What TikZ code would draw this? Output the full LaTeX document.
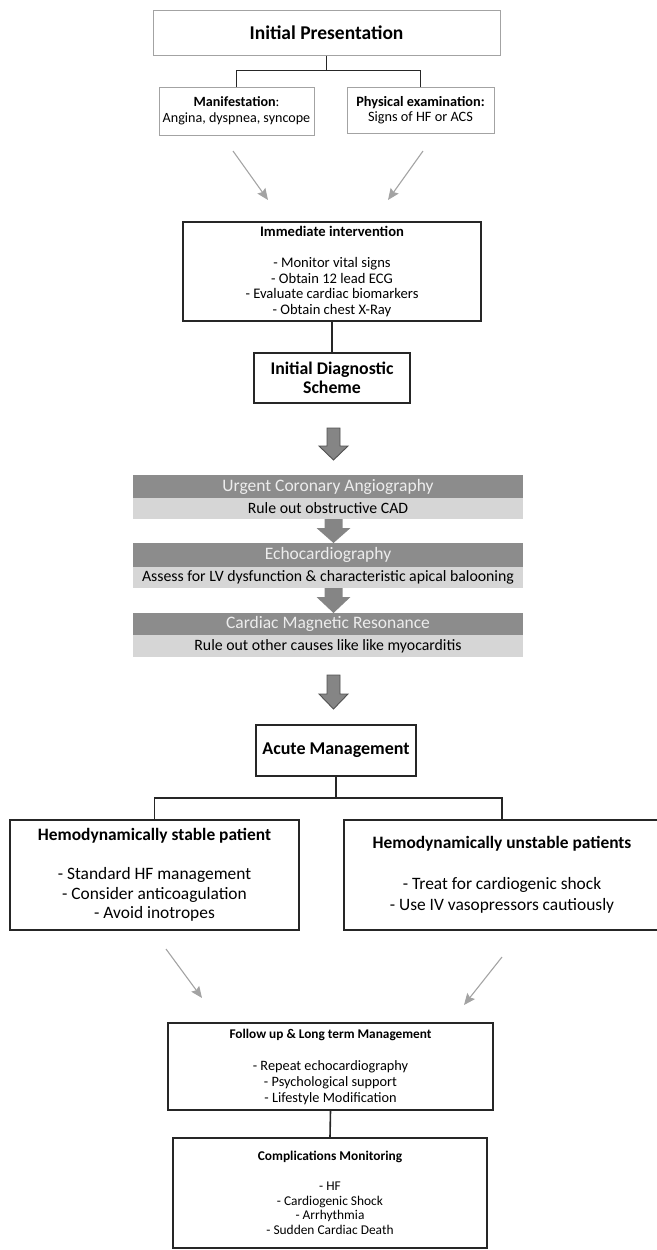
\documentclass[tikz,border=0pt]{standalone}
\usepackage{fontspec}
\setmainfont{Carlito}
\usepackage{tikz}
\usetikzlibrary{positioning, arrows.meta, calc}
\definecolor{lineclr}{HTML}{262626}
\definecolor{softclr}{HTML}{A3A3A3}
\definecolor{banddark}{HTML}{8C8C8C}
\definecolor{bandlight}{HTML}{D6D6D6}
\definecolor{bandtext}{HTML}{EDEDED}
\definecolor{arrfill}{HTML}{858585}
\tikzset{
  softbox/.style = {draw=softclr, line width=1pt, rectangle, align=center, inner sep=0pt},
  hardbox/.style = {draw=lineclr, line width=1.6pt, rectangle, align=center, inner sep=0pt},
  bandhi/.style  = {fill=banddark, rectangle, inner sep=0pt, text=bandtext,
                    font={\fontsize{17.5}{19}\selectfont}},
  bandlo/.style  = {fill=bandlight, rectangle, inner sep=0pt,
                    font={\fontsize{15.8}{17}\selectfont}},
  link/.style    = {draw=lineclr, line width=1.6pt},
  soft/.style    = {draw=softclr, line width=1.1pt, -{Stealth[length=4mm, width=3.4mm, inset=0.6mm]}},
  bigarr/.style  = {fill=arrfill, draw=lineclr!80, line width=0.9pt, line join=miter},
  smallarr/.style= {fill=arrfill},
}
% x, y top, y head, y tip, half shaft, half head
\newcommand{\fatarrow}[7]{%
  \path[#7] (#1-#5,#2) -- (#1+#5,#2) -- (#1+#5,#3) -- (#1+#6,#3) -- (#1,#4)
    -- (#1-#6,#3) -- (#1-#5,#3) -- cycle;}

\begin{document}
\begin{tikzpicture}[x=1pt, y=-1pt]
  \useasboundingbox (0,0) rectangle (656,1250);

  \node[softbox, minimum width=347pt, minimum height=45pt,
        font={\fontsize{19.5}{22}\selectfont\bfseries}] (pres) at (326.5,32.5)
    {Initial Presentation};
  \node[softbox, minimum width=155pt, minimum height=48pt,
        font={\fontsize{14.1}{15.5}\selectfont}] (manif) at (236.5,111)
    {\textbf{Manifestation}:\\Angina, dyspnea, syncope};
  \node[softbox, minimum width=147pt, minimum height=46pt,
        font={\fontsize{14.3}{15.5}\selectfont}] (exam) at (420.5,110)
    {\textbf{Physical examination:}\\Signs of HF or ACS};
  \draw[link] (pres.south) -- ++(0,15) -| (manif.north);
  \draw[link] (pres.south) ++(0,15) -| (exam.north);

  \coordinate (m1) at (233,151);  \coordinate (m2) at (268,200);
  \coordinate (e1) at (423,151);  \coordinate (e2) at (388,200);
  \draw[soft] (m1) -- (m2);
  \draw[soft] (e1) -- (e2);

  \node[hardbox, minimum width=298pt, minimum height=99pt,
        font={\fontsize{14.6}{15.5}\selectfont}] (immed) at (332,271.5)
    {\textbf{Immediate intervention}\\[15.5pt]
     - Monitor vital signs\\- Obtain 12 lead ECG\\
     - Evaluate cardiac biomarkers\\- Obtain chest X-Ray};
  \node[hardbox, minimum width=156pt, minimum height=50pt,
        font={\fontsize{17.8}{19}\selectfont\bfseries}] (diag) at (332,378)
    {Initial Diagnostic\\Scheme};
  \draw[link] (immed.south) -- (diag.north);

  \fatarrow{333.5}{428}{446}{460}{6.5}{14.5}{bigarr}

  % diagnostic bands
  \node[bandhi, minimum width=390pt, minimum height=23pt] (uca) at (328,486.5)
    {Urgent Coronary Angiography};
  \node[bandlo, minimum width=390pt, minimum height=21pt] (ucalo) at (328,508.5)
    {Rule out obstructive CAD};
  \fatarrow{333.5}{519}{528}{543}{9}{17}{smallarr}
  \node[bandhi, minimum width=390pt, minimum height=24pt] (echo) at (328,555)
    {Echocardiography};
  \node[bandlo, minimum width=390pt, minimum height=21pt] (echolo) at (328,577.5)
    {Assess for LV dysfunction \& characteristic apical balooning};
  \fatarrow{333.5}{588}{597}{613}{9}{17}{smallarr}
  \node[bandhi, minimum width=390pt, minimum height=22pt] (cmr) at (328,624)
    {Cardiac Magnetic Resonance};
  \node[bandlo, minimum width=390pt, minimum height=22pt] (cmrlo) at (328,646)
    {Rule out other causes like like myocarditis};

  \fatarrow{333.5}{675}{694}{709}{6.5}{14.5}{bigarr}

  \node[hardbox, minimum width=160pt, minimum height=51pt,
        font={\fontsize{18}{20}\selectfont\bfseries}] (acute) at (336,750.5)
    {Acute Management};
  \node[hardbox, minimum width=289pt, minimum height=110pt,
        font={\fontsize{17.4}{19.5}\selectfont}] (stable) at (154.5,875)
    {\textbf{Hemodynamically stable patient}\\[19.5pt]
     - Standard HF management\\- Consider anticoagulation\\- Avoid inotropes};
  \node[hardbox, minimum width=316pt, minimum height=110pt,
        font={\fontsize{17.4}{20.5}\selectfont}] (unstable) at (502,875)
    {\textbf{Hemodynamically unstable patients}\\[20.5pt]
     - Treat for cardiogenic shock\\- Use IV vasopressors cautiously};
  \draw[link] (acute.south) -- ++(0,21) -| (stable.north);
  \draw[link] (acute.south) ++(0,21) -| (unstable.north);

  \coordinate (s1) at (166,949);  \coordinate (s2) at (202,998);
  \coordinate (u1) at (502,957);  \coordinate (u2) at (464,1005);
  \draw[soft] (s1) -- (s2);
  \draw[soft] (u1) -- (u2);

  \node[hardbox, minimum width=325pt, minimum height=87pt,
        font={\fontsize{14.3}{16}\selectfont}] (follow) at (330.5,1066.5)
    {{\fontsize{13.3}{16}\selectfont\textbf{Follow up \& Long term Management}}\\[16pt]
     - Repeat echocardiography\\- Psychological support\\- Lifestyle Modification};
  \node[hardbox, minimum width=314pt, minimum height=110pt,
        font={\fontsize{13.4}{14.7}\selectfont}] (compl) at (330,1193)
    {\textbf{Complications Monitoring}\\[14.7pt]
     - HF\\- Cardiogenic Shock\\- Arrhythmia\\- Sudden Cardiac Death};
  \draw[link] (follow.south) -- (compl.north);
\end{tikzpicture}
\end{document}
